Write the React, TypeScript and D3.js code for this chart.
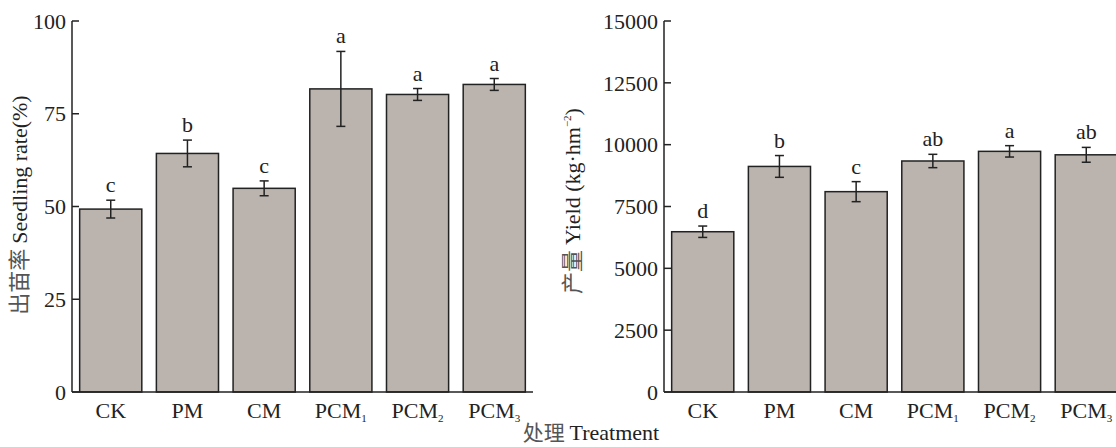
import React from 'react';
import * as d3 from 'd3';

// ==== data

const categories = ['CK', 'PM', 'CM', 'PCM1', 'PCM2', 'PCM3'];

const seedlingRate = [49.3, 64.3, 54.9, 81.7, 80.2, 82.9];
const seedlingErr = [2.4, 3.6, 2.0, 10.1, 1.6, 1.6];
const seedlingLetters = ['c', 'b', 'c', 'a', 'a', 'a'];
const seedlingTicks = [0, 25, 50, 75, 100];

const yieldValues = [6480, 9120, 8100, 9340, 9730, 9590];
const yieldErr = [230, 440, 405, 270, 230, 300];
const yieldLetters = ['d', 'b', 'c', 'ab', 'a', 'ab'];
const yieldTicks = [0, 2500, 5000, 7500, 10000, 12500, 15000];

// ====

const serif = '"Liberation Serif", "Times New Roman", serif';
const cjk = '"Noto Sans CJK SC", sans-serif';
const ink = '#222';
const fill = '#bab3ae';

const top = 21;
const bottom = 392;
const plotW = 461;

function CategoryLabel({ name, x }) {
    const m = name.match(/^(PCM)(\d)$/);
    return (
        <text x={x} y={418} textAnchor="middle" fontFamily={serif} fontSize={22} fill={ink}>
            {m ? (
                <>
                    {m[1]}
                    <tspan fontSize={11} dy={4}>{m[2]}</tspan>
                </>
            ) : name}
        </text>
    );
}

function Panel({ x0, values, errors, letters, ticks, max }) {
    const x = d3.scaleBand().domain(categories).range([x0, x0 + plotW])
        .paddingInner(0.19).paddingOuter(0.1);
    const y = d3.scaleLinear().domain([0, max]).range([bottom, top]);
    const cap = 4.5;

    return (
        <g>
            {categories.map((c, i) => {
                const bx = x(c);
                const cx = bx + x.bandwidth() / 2;
                const hi = y(values[i] + errors[i]);
                const lo = y(values[i] - errors[i]);
                return (
                    <g key={c}>
                        <rect x={bx} y={y(values[i])} width={x.bandwidth()} height={bottom - y(values[i])}
                            fill={fill} stroke={ink} strokeWidth={1.5} />
                        <line x1={cx} x2={cx} y1={hi} y2={lo} stroke={ink} strokeWidth={1.5} />
                        <line x1={cx - cap} x2={cx + cap} y1={hi} y2={hi} stroke={ink} strokeWidth={1.5} />
                        <line x1={cx - cap} x2={cx + cap} y1={lo} y2={lo} stroke={ink} strokeWidth={1.5} />
                        <text x={cx} y={hi - 8} textAnchor="middle" fontFamily={serif} fontSize={22} fill={ink}>
                            {letters[i]}
                        </text>
                        <CategoryLabel name={c} x={cx} />
                    </g>
                );
            })}

            <line x1={x0} x2={x0} y1={top} y2={bottom} stroke={ink} strokeWidth={1.5} />
            <line x1={x0} x2={x0 + plotW} y1={bottom} y2={bottom} stroke={ink} strokeWidth={1.5} />

            {ticks.map((t) => (
                <g key={t}>
                    <line x1={x0} x2={x0 + 7} y1={y(t)} y2={y(t)} stroke={ink} strokeWidth={1.5} />
                    <text x={x0 - 6} y={y(t)} dy="0.35em" textAnchor="end"
                        fontFamily={serif} fontSize={22} fill={ink}>{t}</text>
                </g>
            ))}
        </g>
    );
}

export default function App() {
    return (
        <svg width={1116} height={447} style={{ position: 'absolute', left: 0, top: 0, background: '#fff' }}>
            <Panel x0={72} values={seedlingRate} errors={seedlingErr} letters={seedlingLetters}
                ticks={seedlingTicks} max={100} />
            <Panel x0={664} values={yieldValues} errors={yieldErr} letters={yieldLetters}
                ticks={yieldTicks} max={15000} />

            <text transform="translate(27,205) rotate(-90)" textAnchor="middle" fontSize={22} fill={ink}>
                <tspan fontFamily={cjk} fill="#555">出苗率 </tspan>
                <tspan fontFamily={serif}>Seedling rate(%)</tspan>
            </text>

            <text transform="translate(580,201) rotate(-90)" textAnchor="middle" fontSize={22} fill={ink}>
                <tspan fontFamily={cjk} fill="#555">产量 </tspan>
                <tspan fontFamily={serif}>Yield (kg·hm</tspan>
                <tspan fontFamily={serif} fontSize={11} dy={-9}>−2</tspan>
                <tspan fontFamily={serif} dy={9}>)</tspan>
            </text>

            <text x={591} y={440} textAnchor="middle" fontSize={21} fill={ink}>
                <tspan fontFamily={cjk} fill="#555">处理 </tspan>
                <tspan fontFamily={serif} fontSize={22}>Treatment</tspan>
            </text>
        </svg>
    );
}
